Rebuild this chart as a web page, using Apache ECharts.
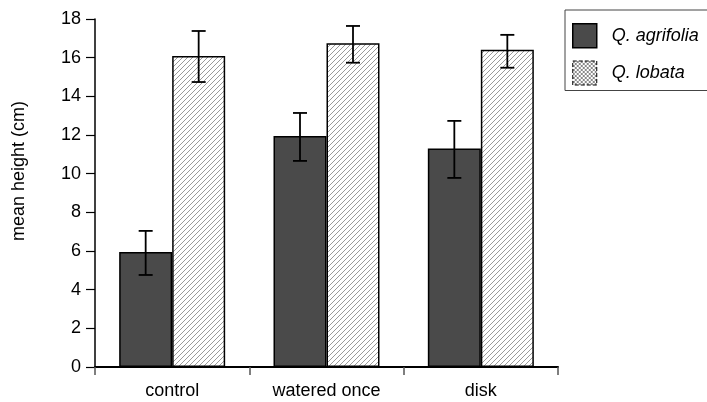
<!DOCTYPE html>
<html>
<head>
<meta charset="utf-8">
<script src="https://cdn.jsdelivr.net/npm/echarts@6/dist/echarts.min.js"></script>
<style>
html,body{margin:0;padding:0;background:#fff;}
#c{width:707px;height:402px;}
</style>
</head>
<body>
<div id="c"></div>
<script>
const categories = ['control', 'watered once', 'disk'];
const seriesNames = ['Q. agrifolia', 'Q. lobata'];
const agrifoliaMean = [5.95, 11.95, 11.3];
const agrifoliaLow = [4.76, 10.66, 9.78];
const agrifoliaHigh = [7.04, 13.14, 12.73];
const lobataMean = [16.09, 16.75, 16.41];
const lobataLow = [14.74, 15.74, 15.48];
const lobataHigh = [17.38, 17.64, 17.18];
const yTicks = [0, 2, 4, 6, 8, 10, 12, 14, 16, 18];

function hatchCanvas() {
  const s = 5;
  const c = document.createElement('canvas');
  c.width = s; c.height = s;
  const g = c.getContext('2d');
  g.fillStyle = '#fff'; g.fillRect(0, 0, s, s);
  g.strokeStyle = '#9a9a9a'; g.lineWidth = 1;
  g.beginPath();
  g.moveTo(-1, s + 1); g.lineTo(s + 1, -1);
  g.moveTo(-1, 1); g.lineTo(1, -1);
  g.moveTo(s - 1, s + 1); g.lineTo(s + 1, s - 1);
  g.stroke();
  return c;
}
function checkCanvas() {
  const c = document.createElement('canvas');
  c.width = 4; c.height = 4;
  const g = c.getContext('2d');
  g.fillStyle = '#fff'; g.fillRect(0, 0, 4, 4);
  g.fillStyle = '#8a8a8a';
  g.fillRect(0, 0, 2, 2); g.fillRect(2, 2, 2, 2);
  return c;
}

const hatch = { image: hatchCanvas(), repeat: 'repeat' };
const check = { image: checkCanvas(), repeat: 'repeat' };

const chart = echarts.init(document.getElementById('c'), null, { renderer: 'canvas' });

function errSeries(name, low, high, offset) {
  return {
    type: 'custom',
    name: name + ' err',
    z: 10,
    data: categories.map((c, i) => [i, low[i], high[i]]),
    renderItem: function (params, api) {
      const lo = api.coord([api.value(0), api.value(1)]);
      const hi = api.coord([api.value(0), api.value(2)]);
      const x = lo[0] + offset;
      const half = 7;
      const st = { stroke: '#000', lineWidth: 1.8 };
      return {
        type: 'group',
        children: [
          { type: 'line', shape: { x1: x, y1: lo[1], x2: x, y2: hi[1] }, style: st },
          { type: 'line', shape: { x1: x - half, y1: hi[1], x2: x + half, y2: hi[1] }, style: st },
          { type: 'line', shape: { x1: x - half, y1: lo[1], x2: x + half, y2: lo[1] }, style: st }
        ]
      };
    }
  };
}

const font = '"Liberation Sans", Arial, sans-serif';

chart.setOption({
  animation: false,
  backgroundColor: '#fff',
  grid: { left: 95, right: 149, top: 19, bottom: 35, containLabel: false },
  legend: {
    orient: 'vertical',
    left: 565,
    top: 10,
    icon: 'rect',
    itemWidth: 24,
    itemHeight: 24,
    itemGap: 12,
    padding: [13, 70, 5, 7],
    borderColor: '#444',
    borderWidth: 1,
    selectedMode: false,
    textStyle: { fontFamily: font, fontSize: 18, fontStyle: 'italic', color: '#000', padding: [0, 0, 0, 10] },
    data: [
      { name: seriesNames[0], icon: 'rect', itemStyle: { color: '#4a4a4a', borderColor: '#000', borderWidth: 1.5 } },
      { name: seriesNames[1], icon: 'rect', itemStyle: { color: check, borderColor: '#000', borderWidth: 1, borderType: 'dashed' } }
    ]
  },
  xAxis: {
    type: 'category',
    data: categories,
    axisLine: { lineStyle: { color: '#000', width: 2 } },
    axisTick: { show: true, length: 8, lineStyle: { color: '#555', width: 1.5 } },
    axisLabel: { fontFamily: font, fontSize: 18, color: '#000', margin: 15 },
    splitLine: { show: false }
  },
  yAxis: {
    type: 'value',
    min: 0, max: 18, interval: 2,
    name: 'mean height (cm)',
    nameLocation: 'middle',
    nameGap: 67,
    nameTextStyle: { fontFamily: font, fontSize: 18, color: '#000', padding: [0, 0, 0, 44] },
    axisLine: { show: true, lineStyle: { color: '#000', width: 1.5 } },
    axisTick: { show: true, length: 9, lineStyle: { color: '#000', width: 1.2 } },
    axisLabel: {
      fontFamily: font, fontSize: 18, color: '#000', margin: 14,
      formatter: function (v) { return yTicks.indexOf(v) >= 0 ? String(v) : ''; }
    },
    splitLine: { show: false }
  },
  series: [
    {
      name: seriesNames[0],
      type: 'bar',
      data: agrifoliaMean,
      barWidth: 53,
      barGap: '0%',
      itemStyle: { color: '#4a4a4a', borderColor: '#000', borderWidth: 1.5 }
    },
    {
      name: seriesNames[1],
      type: 'bar',
      data: lobataMean,
      barWidth: 53,
      barGap: '0%',
      itemStyle: { color: hatch, borderColor: '#000', borderWidth: 1.5 }
    },
    errSeries(seriesNames[0], agrifoliaLow, agrifoliaHigh, -26.5),
    errSeries(seriesNames[1], lobataLow, lobataHigh, 26.5)
  ]
});
</script>
</body>
</html>
